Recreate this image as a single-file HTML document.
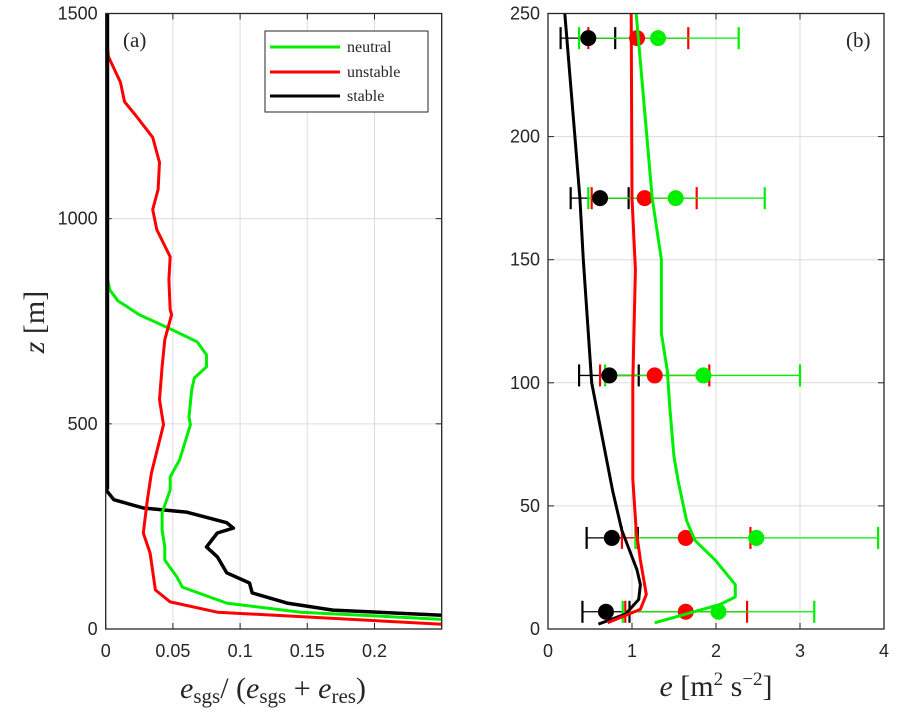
<!DOCTYPE html>
<html><head><meta charset="utf-8">
<style>
html,body{margin:0;padding:0;background:#fff;}
svg{display:block;}
.tick{font-family:"Liberation Sans",sans-serif;font-size:18px;fill:#262626;}
.lab{font-family:"Liberation Serif",serif;fill:#262626;}
</style></head>
<body>
<svg id="chart" width="900" height="715" viewBox="0 0 900 715" xmlns="http://www.w3.org/2000/svg"></svg>
<script>
// ---- panel (a) data: z [m] and ratio esgs/(esgs+eres)
const neutralZ = [875,827,800,766,730,700,668,639,612,583,517,498,412,371,339,283,241,200,168,127,102,63,41,22];
const neutralV = [0,0.003,0.009,0.025,0.049,0.068,0.075,0.075,0.066,0.064,0.062,0.063,0.055,0.048,0.048,0.042,0.042,0.044,0.044,0.053,0.057,0.090,0.145,0.26];
const unstableZ = [1440,1431,1395,1332,1285,1249,1198,1137,1071,1022,973,907,851,778,766,705,639,559,498,380,315,234,185,95,66,41,10];
const unstableV = [0,0.001,0.002,0.011,0.014,0.023,0.035,0.040,0.039,0.035,0.038,0.048,0.047,0.048,0.049,0.044,0.042,0.040,0.043,0.034,0.031,0.028,0.033,0.037,0.048,0.083,0.26];
const stableZ = [1500,340,315,295,285,259,246,234,200,176,137,112,88,63,46,32];
const stableV = [0,0,0.006,0.028,0.060,0.090,0.095,0.083,0.075,0.083,0.090,0.107,0.109,0.135,0.169,0.26];
// ---- panel (b) data: profiles of e
const bStableZ = [250,200,175,150,100,56,40,24,18,12,6,2];
const bStableE = [0.2,0.32,0.38,0.42,0.52,0.77,0.88,1.06,1.1,1.08,0.92,0.6];
const bUnstableZ = [250,175,146,100,61,40,28,14,8,2.5];
const bUnstableE = [0.99,1.0,1.04,1.01,1.01,1.05,1.1,1.17,1.1,0.71];
const bNeutralZ = [250,175,150,120,105,90,70,60,44,36,28,18,13,10,2.5];
const bNeutralE = [1.05,1.24,1.35,1.35,1.42,1.45,1.5,1.55,1.65,1.75,1.99,2.23,2.23,2.05,1.27];
// ---- panel (b) markers with error bars
const markZ = [240,175,103,37,7];
const stableMean = [0.48,0.62,0.73,0.76,0.69];
const stableLo = [0.15,0.27,0.37,0.46,0.41];
const stableHi = [0.8,0.96,1.08,1.07,0.97];
const unstableMean = [1.06,1.15,1.27,1.64,1.64];
const unstableLo = [0.48,0.52,0.62,0.88,0.92];
const unstableHi = [1.67,1.77,1.92,2.41,2.37];
const neutralMean = [1.31,1.52,1.85,2.48,2.03];
const neutralLo = [0.37,0.48,0.68,1.04,0.89];
const neutralHi = [2.27,2.58,3.0,3.93,3.17];
const aXTicks = [0,0.05,0.1,0.15,0.2];
const aXTickLabels = ["0","0.05","0.1","0.15","0.2"];
const aYTicks = [0,500,1000,1500];
const bXTicks = [0,1,2,3,4];
const bYTicks = [0,50,100,150,200,250];

const NS="http://www.w3.org/2000/svg";
const svg=document.getElementById('chart');
function mk(tag,attrs,parent){const e=document.createElementNS(NS,tag);for(const k in attrs)e.setAttribute(k,attrs[k]);(parent||svg).appendChild(e);return e;}

const TOP=13.5,BOT=629;
const ax={l:105.7,r:441.7,xmin:0,xmax:0.25,ymax:1500};
const bx={l:548,r:884,xmin:0,xmax:4,ymax:250};
function X(p,v){return p.l+(v-p.xmin)/(p.xmax-p.xmin)*(p.r-p.l);}
function Y(p,z){return BOT-z/p.ymax*(BOT-TOP);}

const defs=mk('defs',{});
const ca=mk('clipPath',{id:'clipA'},defs);mk('rect',{x:ax.l,y:TOP,width:ax.r-ax.l,height:BOT-TOP},ca);
const cb=mk('clipPath',{id:'clipB'},defs);mk('rect',{x:bx.l,y:TOP,width:bx.r-bx.l,height:BOT-TOP},cb);

function frame(p,xt,xtl,yt,name){
  const g=mk('g',{});
  
  
  xt.forEach((t,i)=>{const x=X(p,t);
    if(t>p.xmin&&t<p.xmax){const gl=mk('line',{x1:x,x2:x,y1:TOP,y2:BOT,stroke:'#dcdcdc','stroke-width':1},g);}
    mk('line',{x1:x,x2:x,y1:BOT,y2:BOT-6,stroke:'#262626','stroke-width':1},g);
    mk('line',{x1:x,x2:x,y1:TOP,y2:TOP+6,stroke:'#262626','stroke-width':1},g);
    const tx=mk('text',{x:x,y:BOT+28,'text-anchor':'middle',class:'tick'},g);tx.textContent=xtl[i];
    
  });
  yt.forEach(t=>{const y=Y(p,t);
    if(t>0&&t<p.ymax){const gl=mk('line',{x1:p.l,x2:p.r,y1:y,y2:y,stroke:'#dcdcdc','stroke-width':1},g);}
    mk('line',{x1:p.l,x2:p.l+6,y1:y,y2:y,stroke:'#262626','stroke-width':1},g);
    mk('line',{x1:p.r,x2:p.r-6,y1:y,y2:y,stroke:'#262626','stroke-width':1},g);
    const tx=mk('text',{x:p.l-8,y:y+6,'text-anchor':'end',class:'tick'},g);tx.textContent=String(t);
    
  });
}
function line(p,zs,vs,color,w,clip,name){
  const d=zs.map((z,i)=>(i?'L':'M')+X(p,vs[i]).toFixed(1)+','+Y(p,z).toFixed(1)).join(' ');
  const e=mk('path',{d:d,fill:'none',stroke:color,'stroke-width':w,'stroke-linejoin':'round','clip-path':'url(#'+clip+')'});
  
  
}
frame(ax,aXTicks,aXTickLabels,aYTicks,'panel-a');
frame(bx,bXTicks,bXTicks.map(String),bYTicks,'panel-b');

line(ax,stableZ,stableV,'#000',3.5,'clipA','stable-ratio-line');
line(ax,neutralZ,neutralV,'#00ee00',3,'clipA','neutral-ratio-line');
line(ax,unstableZ,unstableV,'#ff0000',3,'clipA','unstable-ratio-line');
// thick black segment along the left axis (stable ratio ~0)
const thick=mk('line',{x1:ax.l+1.5,x2:ax.l+1.5,y1:TOP,y2:Y(ax,340),stroke:'#000','stroke-width':4});



function ebars(mean,lo,hi,color,name){
  markZ.forEach((z,i)=>{const y=Y(bx,z);
    const g=mk('g',{stroke:color,'stroke-width':1.3});
    
    
    mk('line',{x1:X(bx,lo[i]),x2:X(bx,hi[i]),y1:y,y2:y},g);
    mk('line',{x1:X(bx,lo[i]),x2:X(bx,lo[i]),y1:y-11,y2:y+11,'stroke-width':2.2},g);
    mk('line',{x1:X(bx,hi[i]),x2:X(bx,hi[i]),y1:y-11,y2:y+11,'stroke-width':2.2},g);
  });
}
function marks(mean,color,name){
  markZ.forEach((z,i)=>{const c=mk('circle',{cx:X(bx,mean[i]),cy:Y(bx,z),r:8,fill:color});
    
    });
}
ebars(stableMean,stableLo,stableHi,'#000','stable');
ebars(unstableMean,unstableLo,unstableHi,'#ff0000','unstable');
ebars(neutralMean,neutralLo,neutralHi,'#00ee00','neutral');
marks(stableMean,'#000','stable');
marks(unstableMean,'#ff0000','unstable');
marks(neutralMean,'#00ee00','neutral');
line(bx,bStableZ,bStableE,'#000',3,'clipB','stable-e-line');
line(bx,bUnstableZ,bUnstableE,'#ff0000',3,'clipB','unstable-e-line');
line(bx,bNeutralZ,bNeutralE,'#00ee00',3,'clipB','neutral-e-line');

[ax,bx].forEach(p=>{const r=mk('rect',{x:p.l,y:TOP,width:p.r-p.l,height:BOT-TOP,fill:'none',stroke:'#262626','stroke-width':1.3});
  });
</script>
<svg width="900" height="715" style="position:absolute;left:0;top:0" xmlns="http://www.w3.org/2000/svg">
  <text x="123" y="47" class="lab" font-size="21">(a)</text>
  <text x="846" y="47" class="lab" font-size="21">(b)</text>
  <g>
    <rect x="265" y="31" width="163" height="81" fill="#fff" stroke="#262626" stroke-width="1"/>
    <line x1="270" x2="340" y1="47" y2="47" stroke="#00ee00" stroke-width="3"/>
    <text x="347" y="52" class="lab" font-size="16">neutral</text>
    <line x1="270" x2="340" y1="72" y2="72" stroke="#ff0000" stroke-width="3"/>
    <text x="347" y="77" class="lab" font-size="16">unstable</text>
    <line x1="270" x2="340" y1="96" y2="96" stroke="#000" stroke-width="3"/>
    <text x="347" y="101" class="lab" font-size="16">stable</text>
  </g>
  <text transform="translate(44,322) rotate(-90)" text-anchor="middle" class="lab" font-size="30"><tspan font-style="italic">z</tspan> [m]</text>
  <text x="273" y="698" text-anchor="middle" class="lab" font-size="30"><tspan font-style="italic">e</tspan><tspan font-size="21" dy="5">sgs</tspan><tspan dy="-5">/ (</tspan><tspan font-style="italic">e</tspan><tspan font-size="21" dy="5">sgs</tspan><tspan dy="-5"> + </tspan><tspan font-style="italic">e</tspan><tspan font-size="21" dy="5">res</tspan><tspan dy="-5">)</tspan></text>
  <text x="716" y="696" text-anchor="middle" class="lab" font-size="30"><tspan font-style="italic">e</tspan> [m<tspan font-size="19" dy="-11">2</tspan><tspan dy="11"> s</tspan><tspan font-size="19" dy="-11">−2</tspan><tspan dy="11">]</tspan></text>
</svg>
</body></html>
